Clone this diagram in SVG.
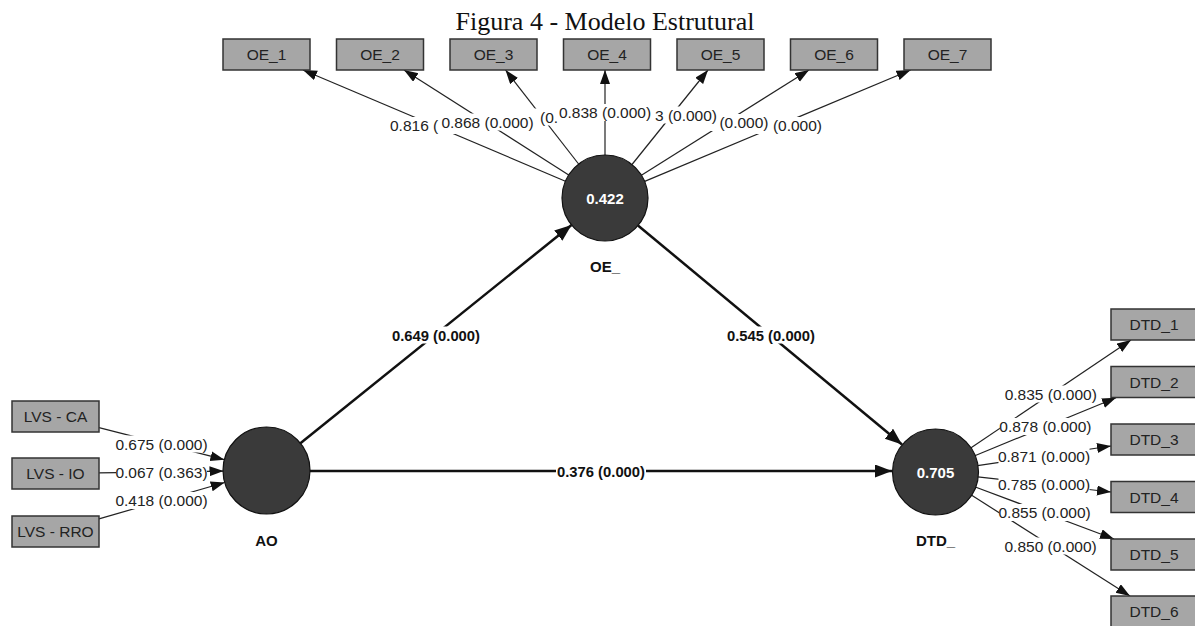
<svg xmlns="http://www.w3.org/2000/svg" width="1195" height="626" viewBox="0 0 1195 626">
<style>
.box{fill:#a6a6a6;stroke:#333;stroke-width:1.5}
.bt{font-family:"Liberation Sans",Arial,sans-serif;font-size:15.5px;fill:#222;text-anchor:middle}
.lv{fill:#3a3a3a;stroke:#111;stroke-width:1.2}
.lvt{font-family:"Liberation Sans",Arial,sans-serif;font-size:15px;font-weight:bold;fill:#fff;text-anchor:middle}
.nm{font-family:"Liberation Sans",Arial,sans-serif;font-size:15px;font-weight:bold;fill:#111;text-anchor:middle}
.m{stroke:#222;stroke-width:1.2;fill:none;marker-end:url(#am)}
.s{stroke:#111;stroke-width:2.5;fill:none;marker-end:url(#as)}
.bg{fill:#fff}
.lt{font-family:"Liberation Sans",Arial,sans-serif;font-size:15.5px;fill:#222;text-anchor:middle}
.ls{font-family:"Liberation Sans",Arial,sans-serif;font-size:14.8px;font-weight:bold;fill:#111;text-anchor:middle}
.title{font-family:"Liberation Serif","Times New Roman",serif;font-size:26px;fill:#111;text-anchor:middle}
</style>
<defs>
<marker id="am" markerUnits="userSpaceOnUse" markerWidth="15" markerHeight="11" refX="14" refY="5" orient="auto"><path d="M0,0 L14,5 L0,10 z" fill="#111"/></marker>
<marker id="as" markerUnits="userSpaceOnUse" markerWidth="18" markerHeight="14" refX="17" refY="6.5" orient="auto"><path d="M0,0 L17,6.5 L0,13 z" fill="#111"/></marker>
</defs>
<rect width="1195" height="626" fill="#fff"/>
<text class="title" x="605" y="30">Figura 4 - Modelo Estrutural</text>

<g id="connectors">
<line class="m" x1="565.4" y1="181.2" x2="303" y2="70"/>
<line class="m" x1="568.7" y1="174.9" x2="404" y2="70"/>
<line class="m" x1="578.6" y1="164" x2="505.5" y2="70"/>
<line class="m" x1="605" y1="155" x2="605" y2="70"/>
<line class="m" x1="632" y1="164.5" x2="708" y2="70"/>
<line class="m" x1="641.4" y1="175.2" x2="809" y2="70"/>
<line class="m" x1="644.7" y1="181.4" x2="910.6" y2="70"/>
<line class="m" x1="99" y1="427.6" x2="224.4" y2="459.7"/>
<line class="m" x1="99" y1="472.9" x2="223.5" y2="471.1"/>
<line class="m" x1="99" y1="518.9" x2="224.7" y2="482.5"/>
<line class="m" x1="970.7" y1="448" x2="1131" y2="340"/>
<line class="m" x1="974.8" y1="455.7" x2="1116" y2="397.7"/>
<line class="m" x1="977.5" y1="465.7" x2="1111" y2="446"/>
<line class="m" x1="977.7" y1="476.9" x2="1111" y2="492"/>
<line class="m" x1="975.3" y1="487" x2="1114" y2="539"/>
<line class="m" x1="971.3" y1="495" x2="1130" y2="596"/>
<line class="s" x1="300.4" y1="443.2" x2="571.5" y2="225"/>
<line class="s" x1="638" y1="225.5" x2="902" y2="444.5"/>
<line class="s" x1="310" y1="471" x2="892" y2="471"/>

<g id="labels">
<rect class="bg" x="389.5" y="117" width="91" height="17"/>
<text class="lt" x="390" y="131" style="text-anchor:start">0.816 (</text>
<rect class="bg" x="497.5" y="108.5" width="91" height="17"/>
<text class="lt" x="540" y="122.5" style="text-anchor:start">(0.</text>
<rect class="bg" x="733" y="117" width="91" height="17"/>
<text class="lt" x="822" y="131" style="text-anchor:end">(0.000)</text>
<rect class="bg" x="680.5" y="114" width="89" height="17"/>
<text class="lt" x="768.5" y="128" style="text-anchor:end">(0.000)</text>
<rect class="bg" x="628" y="106.5" width="89" height="17"/>
<text class="lt" x="717" y="120.5" style="text-anchor:end">3 (0.000)</text>
<rect class="bg" x="442" y="113.5" width="91" height="17"/>
<text class="lt" x="487.5" y="127.5">0.868 (0.000)</text>
<rect class="bg" x="559.5" y="104" width="91" height="17"/>
<text class="lt" x="605" y="118">0.838 (0.000)</text>

<rect class="bg" x="116" y="435.5" width="91" height="17"/>
<text class="lt" x="161.5" y="449.5">0.675 (0.000)</text>
<rect class="bg" x="116" y="464" width="91" height="17"/>
<text class="lt" x="161.5" y="478">0.067 (0.363)</text>
<rect class="bg" x="116" y="492" width="91" height="17"/>
<text class="lt" x="161.5" y="506">0.418 (0.000)</text>

<rect class="bg" x="1005.3" y="385.5" width="91" height="17"/>
<text class="lt" x="1050.8" y="399.5">0.835 (0.000)</text>
<rect class="bg" x="999.9" y="418" width="91" height="17"/>
<text class="lt" x="1045.4" y="432">0.878 (0.000)</text>
<rect class="bg" x="998.5" y="447.5" width="91" height="17"/>
<text class="lt" x="1044" y="461.5">0.871 (0.000)</text>
<rect class="bg" x="998.5" y="475.5" width="91" height="17"/>
<text class="lt" x="1044" y="489.5">0.785 (0.000)</text>
<rect class="bg" x="999.1" y="504" width="91" height="17"/>
<text class="lt" x="1044.6" y="518">0.855 (0.000)</text>
<rect class="bg" x="1005.1" y="537.5" width="91" height="17"/>
<text class="lt" x="1050.6" y="551.5">0.850 (0.000)</text>

<rect class="bg" x="391" y="326.5" width="90" height="17"/>
<text class="ls" x="436" y="340.5">0.649 (0.000)</text>
<rect class="bg" x="726" y="326.5" width="90" height="17"/>
<text class="ls" x="771" y="340.5">0.545 (0.000)</text>
<rect class="bg" x="556" y="463" width="90" height="17"/>
<text class="ls" x="601" y="477">0.376 (0.000)</text>
</g>
</g>

<g id="OE_1"><rect class="box" x="223" y="39" width="87" height="31"/><text class="bt" x="266.5" y="60">OE_1</text></g>
<g id="OE_2"><rect class="box" x="336.5" y="39" width="87" height="31"/><text class="bt" x="380" y="60">OE_2</text></g>
<g id="OE_3"><rect class="box" x="450" y="39" width="87" height="31"/><text class="bt" x="493.5" y="60">OE_3</text></g>
<g id="OE_4"><rect class="box" x="563.5" y="39" width="87" height="31"/><text class="bt" x="607" y="60">OE_4</text></g>
<g id="OE_5"><rect class="box" x="677" y="39" width="87" height="31"/><text class="bt" x="720.5" y="60">OE_5</text></g>
<g id="OE_6"><rect class="box" x="790.5" y="39" width="87" height="31"/><text class="bt" x="834" y="60">OE_6</text></g>
<g id="OE_7"><rect class="box" x="904" y="39" width="87" height="31"/><text class="bt" x="947.5" y="60">OE_7</text></g>

<g id="LVS_CA"><rect class="box" x="12" y="401" width="87" height="31"/><text class="bt" x="55.5" y="422">LVS - CA</text></g>
<g id="LVS_IO"><rect class="box" x="12" y="458" width="87" height="31"/><text class="bt" x="55.5" y="479">LVS - IO</text></g>
<g id="LVS_RRO"><rect class="box" x="12" y="516" width="87" height="31"/><text class="bt" x="55.5" y="537">LVS - RRO</text></g>

<g id="DTD_1"><rect class="box" x="1111" y="309" width="87" height="31"/><text class="bt" x="1154" y="330">DTD_1</text></g>
<g id="DTD_2"><rect class="box" x="1111" y="366.5" width="87" height="31"/><text class="bt" x="1154" y="387.5">DTD_2</text></g>
<g id="DTD_3"><rect class="box" x="1111" y="424" width="87" height="31"/><text class="bt" x="1154" y="445">DTD_3</text></g>
<g id="DTD_4"><rect class="box" x="1111" y="481.5" width="87" height="31"/><text class="bt" x="1154" y="502.5">DTD_4</text></g>
<g id="DTD_5"><rect class="box" x="1111" y="539" width="87" height="31"/><text class="bt" x="1154" y="560">DTD_5</text></g>
<g id="DTD_6"><rect class="box" x="1111" y="596" width="87" height="31"/><text class="bt" x="1154" y="617">DTD_6</text></g>

<g id="OE_"><circle class="lv" cx="605" cy="198" r="43"/><text class="lvt" x="605" y="203.5">0.422</text><text class="nm" x="605" y="272">OE_</text></g>
<g id="AO"><circle class="lv" cx="266.5" cy="470.5" r="43.5"/><text class="nm" x="266.5" y="545.5">AO</text></g>
<g id="DTD_"><circle class="lv" cx="935.5" cy="472" r="43"/><text class="lvt" x="935.5" y="477.5">0.705</text><text class="nm" x="935.5" y="545.5">DTD_</text></g>
</svg>
